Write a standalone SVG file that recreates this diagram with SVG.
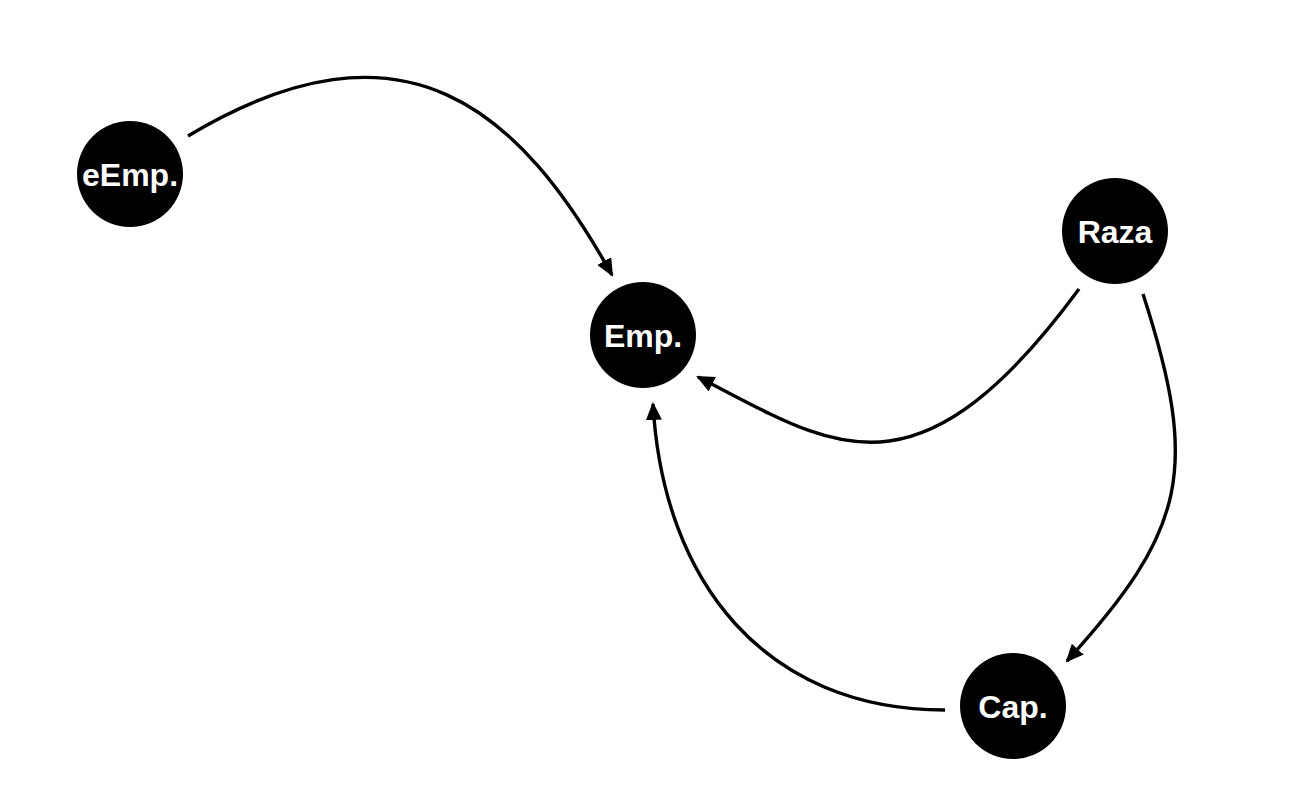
<svg xmlns="http://www.w3.org/2000/svg" width="1296" height="800" viewBox="0 0 1296 800">
<style>
.node circle{fill:#000}
.node text{fill:#fff;font-family:"Liberation Sans",Arial,sans-serif;font-weight:bold;font-size:32px;text-anchor:middle}
.edge{fill:none;stroke:#000;stroke-width:3.4}
</style>
<defs>
<marker id="arr" viewBox="0 0 18 16" refX="16" refY="8" markerWidth="18" markerHeight="16" markerUnits="userSpaceOnUse" orient="auto">
<path d="M0,0 L18,8 L0,16 z" fill="#000"/>
</marker>
</defs>
<rect width="1296" height="800" fill="#fff"/>
<g id="edges">
<path class="edge" marker-end="url(#arr)" d="M188,136 C405,6 520,110 612,275"/>
<path class="edge" marker-end="url(#arr)" d="M1079,289 C914,513 830,444 698,377"/>
<path class="edge" marker-end="url(#arr)" d="M1143,294 C1200,470 1186,530 1067,661"/>
<path class="edge" marker-end="url(#arr)" d="M945,710 C765,710 663,582 653,404"/>
</g>
<g id="node-eEmp" class="node"><circle cx="130" cy="174" r="53"/><text x="130" y="185.5">eEmp.</text></g>
<g id="node-Emp" class="node"><circle cx="643" cy="335" r="53"/><text x="643" y="346.5">Emp.</text></g>
<g id="node-Raza" class="node"><circle cx="1115" cy="231" r="53"/><text x="1115" y="242.5">Raza</text></g>
<g id="node-Cap" class="node"><circle cx="1013" cy="706" r="53"/><text x="1013" y="717.5">Cap.</text></g>
</svg>
